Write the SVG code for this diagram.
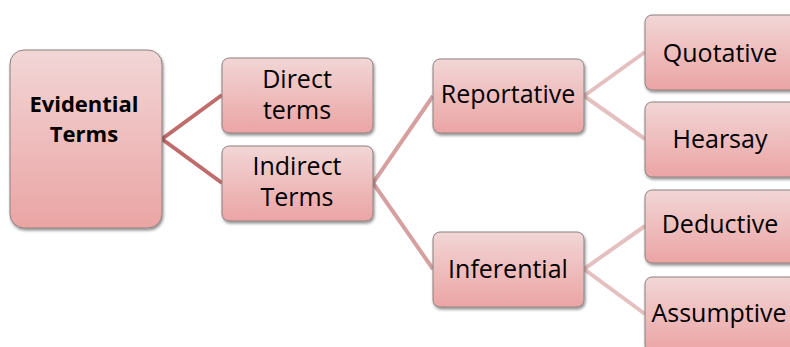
<svg xmlns="http://www.w3.org/2000/svg" width="790" height="347" viewBox="0 0 790 347">
<defs>
<linearGradient id="g" x1="0" y1="0" x2="0" y2="1">
<stop offset="0" stop-color="#f2d6d6"/>
<stop offset="1" stop-color="#eba4a4"/>
</linearGradient>
<filter id="sh" x="-10%" y="-10%" width="130%" height="130%">
<feGaussianBlur in="SourceAlpha" stdDeviation="1.5"/>
<feOffset dx="1" dy="2" result="b"/>
<feComponentTransfer><feFuncA type="linear" slope="0.45"/></feComponentTransfer>
<feMerge><feMergeNode/><feMergeNode in="SourceGraphic"/></feMerge>
</filter>
</defs>
<style>
.box{fill:url(#g);stroke:#8c8080;stroke-width:1;filter:url(#sh)}
.t{font-family:"Open Sans","Liberation Sans",sans-serif;font-size:25px;fill:#000;text-anchor:middle}
.b{font-weight:bold;font-size:22px}
.c1{stroke:#c06c6c;stroke-width:4;fill:none}
.c2{stroke:#d6a0a0;stroke-width:4;fill:none}
.c3{stroke:#e4c0c0;stroke-width:4;fill:none}
</style>
<rect width="790" height="347" fill="#fff"/>
<g id="connectors">
<polyline class="c1" points="222,95 162,139 222,183"/>
<polyline class="c2" points="433,96 373,183 433,269"/>
<polyline class="c3" points="645,52 584,96 645,139"/>
<polyline class="c3" points="645,226 584,269 645,314"/>
</g>
<g id="evidential">
<rect class="box" x="10" y="50" width="152" height="178" rx="14"/>
<text class="t b" x="84" y="112">Evidential</text>
<text class="t b" x="84" y="142">Terms</text>
</g>
<g id="direct">
<rect class="box" x="222" y="58" width="151" height="75" rx="7"/>
<text class="t" x="297" y="88">Direct</text>
<text class="t" x="297" y="119">terms</text>
</g>
<g id="indirect">
<rect class="box" x="222" y="146" width="151" height="75" rx="7"/>
<text class="t" x="297" y="175">Indirect</text>
<text class="t" x="297" y="206">Terms</text>
</g>
<g id="reportative">
<rect class="box" x="433" y="59" width="151" height="74" rx="7"/>
<text class="t" x="508" y="103">Reportative</text>
</g>
<g id="inferential">
<rect class="box" x="433" y="232" width="151" height="75" rx="7"/>
<text class="t" x="508" y="278">Inferential</text>
</g>
<g id="quotative">
<rect class="box" x="645" y="15" width="152" height="75" rx="7"/>
<text class="t" x="720" y="62">Quotative</text>
</g>
<g id="hearsay">
<rect class="box" x="645" y="102" width="152" height="75" rx="7"/>
<text class="t" x="720" y="148">Hearsay</text>
</g>
<g id="deductive">
<rect class="box" x="645" y="190" width="152" height="73" rx="7"/>
<text class="t" x="720" y="233">Deductive</text>
</g>
<g id="assumptive">
<rect class="box" x="645" y="277" width="152" height="75" rx="7"/>
<text class="t" x="719" y="322">Assumptive</text>
</g>
</svg>
